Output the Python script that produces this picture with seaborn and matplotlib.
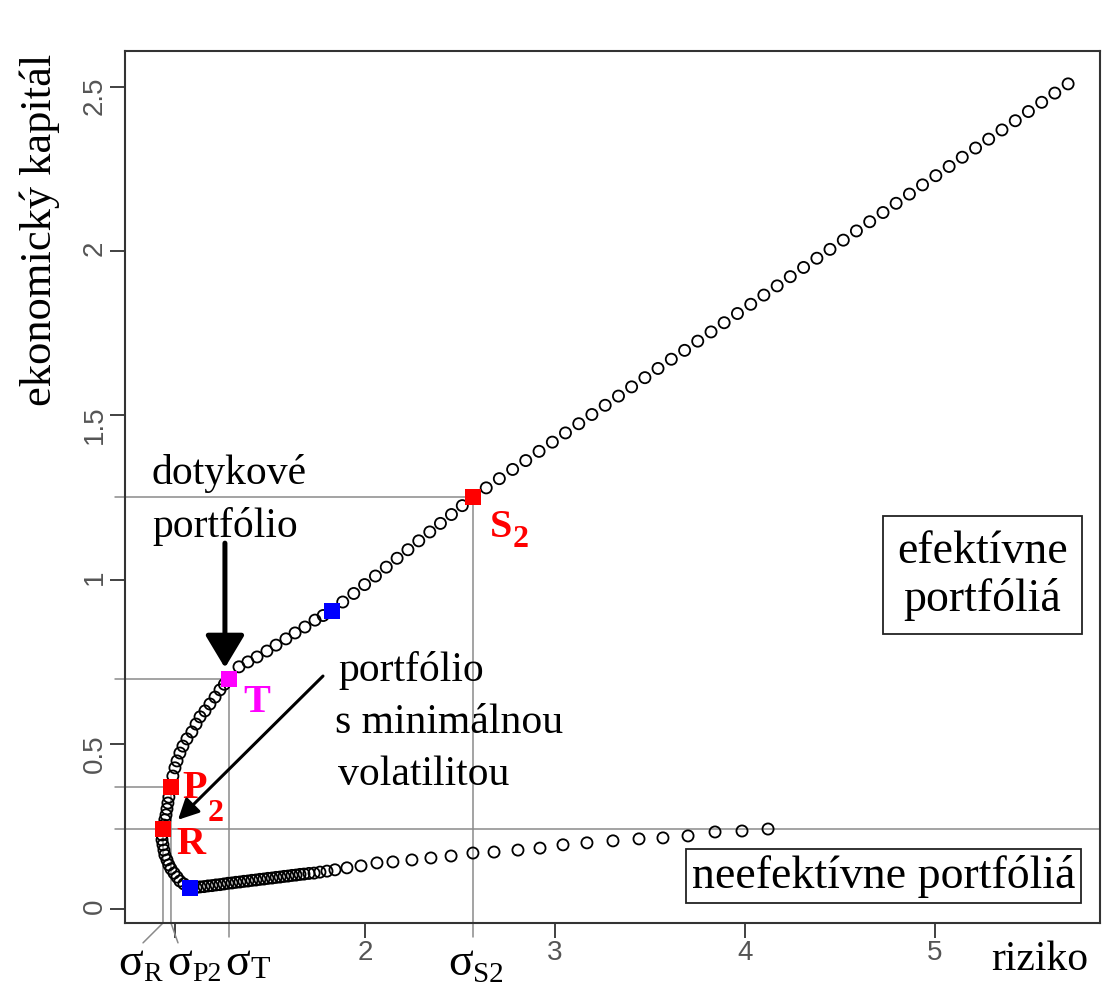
import matplotlib
matplotlib.use("Agg")
import matplotlib.pyplot as plt
import seaborn as sns
import pandas as pd

# circles of the frontier
# upper (efficient) branch: from R up to the top-right end
upper_x = [0.937, 0.942, 0.947, 0.953, 0.958, 0.963, 0.968, 0.979, 0.989, 1.000,
           1.011, 1.026, 1.042, 1.063, 1.089, 1.111, 1.132, 1.158, 1.184, 1.211,
           1.237, 1.260, 1.284, 1.337, 1.384, 1.432, 1.484, 1.532, 1.584, 1.632,
           1.684, 1.737, 1.780, 1.826, 1.883, 1.941, 1.998, 2.055, 2.112, 2.169,
           2.226, 2.283, 2.341, 2.397, 2.455, 2.512, 2.568, 2.638, 2.707, 2.777,
           2.846, 2.916, 2.986, 3.055, 3.125, 3.194, 3.264, 3.334, 3.403, 3.473,
           3.542, 3.612, 3.682, 3.751, 3.821, 3.890, 3.960, 4.030, 4.099, 4.169,
           4.238, 4.308, 4.378, 4.447, 4.517, 4.586, 4.656, 4.726, 4.795, 4.865,
           4.934, 5.004, 5.074, 5.143, 5.213, 5.282, 5.352, 5.422, 5.491, 5.561,
           5.630, 5.700]
upper_y = [0.243, 0.255, 0.271, 0.286, 0.304, 0.322, 0.340, 0.371, 0.404, 0.429,
           0.450, 0.474, 0.495, 0.517, 0.538, 0.562, 0.584, 0.602, 0.623, 0.644,
           0.666, 0.683, 0.699, 0.736, 0.751, 0.766, 0.784, 0.802, 0.821, 0.839,
           0.857, 0.878, 0.892, 0.906, 0.933, 0.959, 0.986, 1.012, 1.039, 1.066,
           1.092, 1.119, 1.146, 1.172, 1.199, 1.226, 1.252, 1.280, 1.308, 1.336,
           1.363, 1.391, 1.419, 1.447, 1.475, 1.503, 1.531, 1.559, 1.587, 1.615,
           1.643, 1.671, 1.698, 1.726, 1.754, 1.782, 1.810, 1.838, 1.866, 1.894,
           1.922, 1.950, 1.978, 2.005, 2.033, 2.061, 2.089, 2.117, 2.145, 2.173,
           2.201, 2.229, 2.257, 2.285, 2.313, 2.340, 2.368, 2.396, 2.424, 2.452,
           2.480, 2.508]

# lower (inefficient) branch: from below R down to the minimum and out to the right
lower_x = [0.932, 0.932, 0.937, 0.942, 0.947, 0.958, 0.968, 0.979, 0.995, 1.011,
           1.026, 1.047, 1.079, 1.111, 1.132, 1.153, 1.174, 1.195, 1.216, 1.237,
           1.258, 1.279, 1.300, 1.321, 1.342, 1.363, 1.384, 1.405, 1.426, 1.447,
           1.468, 1.489, 1.511, 1.532, 1.553, 1.574, 1.595, 1.616, 1.637, 1.658,
           1.679, 1.705, 1.732, 1.763, 1.800, 1.842, 1.905, 1.979, 2.063, 2.147,
           2.247, 2.347, 2.453, 2.568, 2.679, 2.805, 2.921, 3.042, 3.168, 3.305,
           3.442, 3.568, 3.700, 3.842, 3.984, 4.121]
lower_y = [0.225, 0.210, 0.195, 0.179, 0.164, 0.149, 0.134, 0.122, 0.109, 0.097,
           0.085, 0.076, 0.064, 0.065, 0.067, 0.068, 0.070, 0.071, 0.073, 0.074,
           0.076, 0.078, 0.079, 0.081, 0.082, 0.084, 0.085, 0.087, 0.088, 0.090,
           0.091, 0.093, 0.094, 0.096, 0.097, 0.099, 0.100, 0.102, 0.103, 0.105,
           0.106, 0.108, 0.109, 0.112, 0.115, 0.119, 0.125, 0.131, 0.140, 0.143,
           0.149, 0.155, 0.161, 0.170, 0.173, 0.179, 0.185, 0.195, 0.201, 0.207,
           0.213, 0.216, 0.222, 0.234, 0.237, 0.243]

# highlighted portfolios
key_names = ["R", "P2", "T", "S2"]
key_x = [0.937, 0.979, 1.284, 2.568]
key_y = [0.243, 0.371, 0.699, 1.252]
key_colors = {"R": "#ff0000", "P2": "#ff0000", "T": "#ff00ff", "S2": "#ff0000"}
blue_x = [1.079, 1.826]
blue_y = [0.064, 0.906]

x_ticks = [1, 2, 3, 4, 5]
x_tick_labels = ["", "2", "3", "4", "5"]
y_ticks = [0, 0.5, 1, 1.5, 2, 2.5]
y_tick_labels = ["0", "0.5", "1", "1.5", "2", "2.5"]

sns.set_theme(style="white")
plt.rcParams["font.family"] = ["Liberation Serif", "DejaVu Serif"]
plt.rcParams["text.color"] = "black"
plt.rcParams["axes.labelcolor"] = "black"

fig = plt.figure(figsize=(11.05, 9.9), dpi=100)
ax = fig.add_axes([0.1131, 0.0677, 0.8824, 0.8808])

xmin, xmax = 0.737, 5.868
ymin, ymax = -0.0426, 2.608
ax.set_xlim(xmin, xmax)
ax.set_ylim(ymin, ymax)

# frontier circles
frontier = pd.DataFrame({"x": upper_x + lower_x, "y": upper_y + lower_y})
sns.scatterplot(data=frontier, x="x", y="y", marker="o", s=64, ax=ax,
                linewidth=1.3, zorder=3, legend=False)
circ = ax.collections[-1]
circ.set_facecolor("none")
circ.set_edgecolor("black")

# guide lines
gray = "#8a8a8a"
x_out = 0.684    # a little left of the axis
y_out = -0.085   # a little below the axis
ri, pi, ti, si = 0, 1, 2, 3
for i in [si, ti, pi]:
    ax.plot([x_out, key_x[i]], [key_y[i], key_y[i]], color=gray, lw=1.1,
            clip_on=False, zorder=1)
ax.plot([x_out, xmax], [key_y[ri], key_y[ri]], color=gray, lw=1.1,
        clip_on=False, zorder=1)
for i in [si, ti]:
    ax.plot([key_x[i], key_x[i]], [key_y[i], y_out], color=gray, lw=1.1,
            clip_on=False, zorder=1)
ax.plot([key_x[ri], key_x[ri], key_x[ri] - 0.105], [key_y[ri], ymin, -0.103],
        color=gray, lw=1.1, clip_on=False, zorder=1)
ax.plot([key_x[pi], key_x[pi], key_x[pi] + 0.037], [key_y[pi], ymin, -0.103],
        color=gray, lw=1.1, clip_on=False, zorder=1)

# coloured squares
sns.scatterplot(x=key_x, y=key_y, hue=key_names, palette=key_colors, marker="s",
                s=125, linewidth=0, legend=False, ax=ax, zorder=4)
sns.scatterplot(x=blue_x, y=blue_y, color="#0000ff", marker="s", s=125,
                linewidth=0, legend=False, ax=ax, zorder=4)

# axes look
for sp in ax.spines.values():
    sp.set_color("#333333")
    sp.set_linewidth(1.5)
ax.set_xticks(x_ticks, x_tick_labels)
ax.set_yticks(y_ticks, y_tick_labels)
ax.tick_params(axis="both", direction="out", length=10.5, width=1.3,
               color="#333333", labelcolor="#555555",
               bottom=True, left=True, pad=2)
ax.tick_params(axis="y", labelrotation=90)
for lbl in ax.get_xticklabels() + ax.get_yticklabels():
    lbl.set_fontfamily(["Liberation Sans Narrow", "Liberation Sans", "DejaVu Sans"])
    lbl.set_fontsize(20)

ax.set_xlabel("riziko", fontsize=30, va="baseline")
ax.xaxis.set_label_coords(0.938, -0.054)
ax.set_ylabel("ekonomický kapitál", fontsize=32, va="center")
ax.yaxis.set_label_coords(-0.087, 0.795)


def label_with_sub(x, y, main, sub, size, sub_size, dy, **kw):
    # subscript is placed from the bottom-right corner of the main text box
    t = ax.text(x, y, main, fontsize=size, va="baseline", ha="left",
                clip_on=False, **kw)
    ax.annotate(sub, xy=(1, 0), xycoords=t, xytext=(0.5, dy),
                textcoords="offset points", fontsize=sub_size,
                va="baseline", ha="left", annotation_clip=False, **kw)


# sigma labels under the axis
sig_y = -0.2006
label_with_sub(0.700, sig_y, "σ", "R", 33, 20, 2.5, color="black")
label_with_sub(0.958, sig_y, "σ", "P2", 33, 20, 2.5, color="black")
label_with_sub(1.263, sig_y, "σ", "T", 33, 23, 5, color="black")
label_with_sub(2.437, sig_y, "σ", "S2", 33, 21, 2, color="black")

# point labels
ax.text(1.005, 0.167, "R", fontsize=29, fontweight="bold", color="#ff0000",
        va="baseline")
label_with_sub(1.037, 0.337, "P", "2", 29, 23, -10, color="#ff0000",
               fontweight="bold")
ax.text(1.358, 0.599, "T", fontsize=29, fontweight="bold", color="#ff00ff",
        va="baseline")
label_with_sub(2.658, 1.131, "S", "2", 29, 23, -1, color="#ff0000",
               fontweight="bold")

# annotations
ax.text(0.879, 1.292, "dotykové", fontsize=30, va="baseline")
ax.text(0.879, 1.131, "portfólio", fontsize=30, va="baseline")
ax.annotate("", xy=(1.263, 0.733), xytext=(1.263, 1.112),
            arrowprops=dict(arrowstyle="-|>,head_length=0.5,head_width=0.3",
                            lw=3.6, color="black", shrinkA=0, shrinkB=0,
                            mutation_scale=40))

ax.text(1.858, 0.693, "portfólio", fontsize=30, va="baseline")
ax.text(1.842, 0.535, "s minimálnou", fontsize=30, va="baseline")
ax.text(1.858, 0.377, "volatilitou", fontsize=30, va="baseline")
ax.annotate("", xy=(1.016, 0.271), xytext=(1.779, 0.708),
            arrowprops=dict(arrowstyle="-|>,head_length=0.5,head_width=0.25",
                            lw=2.2, color="black", shrinkA=0, shrinkB=0,
                            mutation_scale=25))

box = dict(boxstyle="square,pad=0.3", facecolor="white", edgecolor="#222222",
           linewidth=1.3)
ax.text(5.25, 1.014, "efektívne\nportfóliá", fontsize=33, ha="center",
        va="center", linespacing=1.15, bbox=box)
ax.text(4.729, 0.099, "neefektívne portfóliá", fontsize=33, ha="center",
        va="center", bbox=dict(boxstyle="square,pad=0.12", facecolor="white",
                               edgecolor="#222222", linewidth=1.3))

fig.savefig("out.png", dpi=100, facecolor="white")
